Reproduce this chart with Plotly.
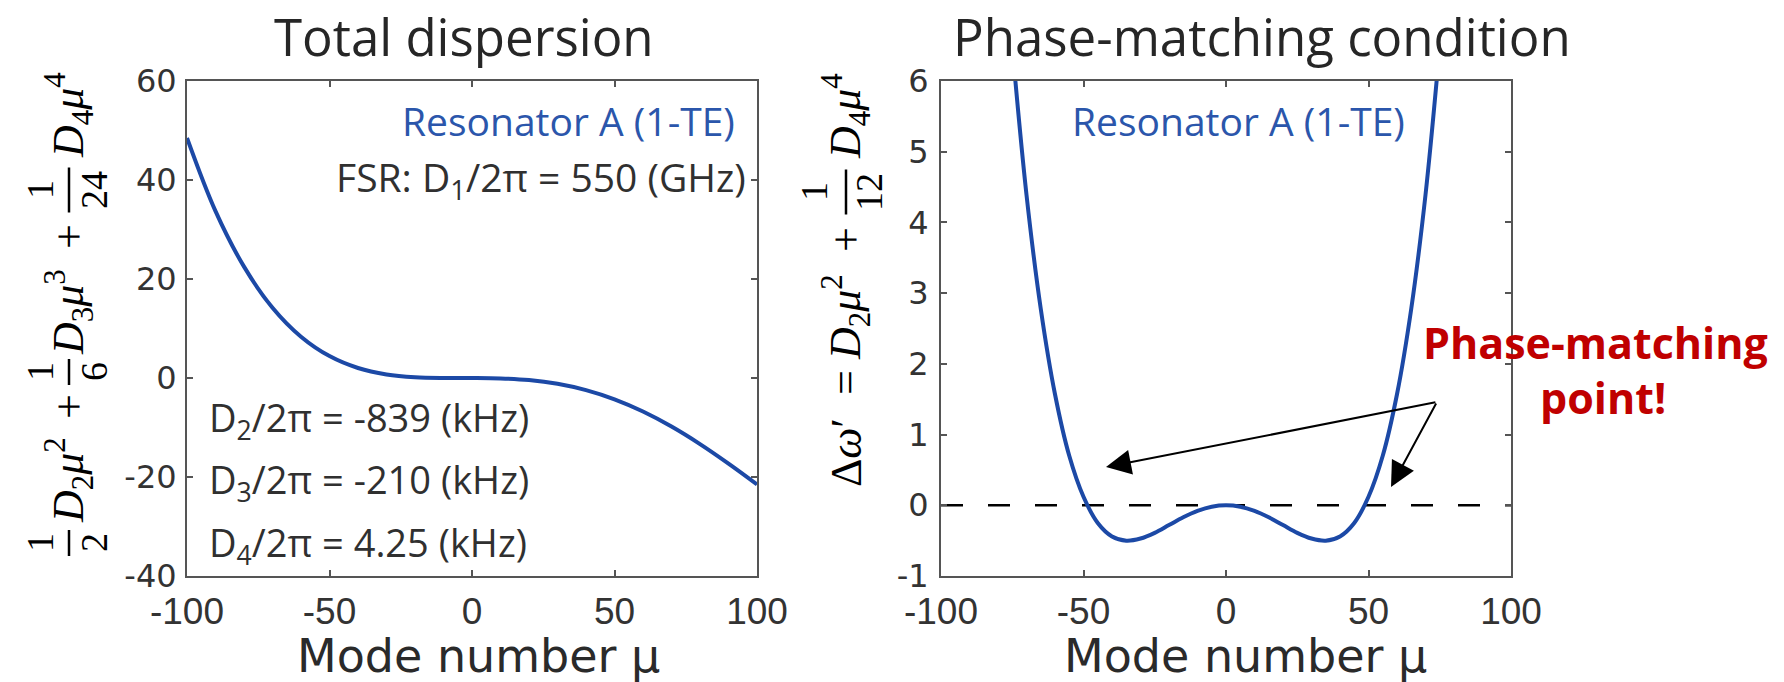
import plotly.graph_objects as go

# ---------------- data ----------------
# Total dispersion (GHz) versus mode number, resonator A (1-TE)
mu_total = [-100, -90, -80, -70, -60, -50, -40, -30, -20, -10, 0,
            10, 20, 30, 40, 50, 60, 70, 80, 90, 100]
disp_total = [48.5, 33.7, 22.5, 14.2, 8.35, 4.43, 2.02, 0.71, 0.14, -0.01, 0.0,
              -0.08, -0.42, -1.18, -2.46, -4.32, -6.78, -9.81, -13.35, -17.29, -21.49]

# Phase-matching curve Δω' (GHz)
mu_pm = [-75, -70, -65, -60, -55, -50, -45, -40, -35, -30, -25, -20, -15, -10, -5, 0,
         5, 10, 15, 20, 25, 30, 35, 40, 45, 50, 55, 60, 65, 70, 75]
dw_pm = [6.49, 4.39, 2.78, 1.57, 0.70, 0.12, -0.25, -0.44, -0.50, -0.47, -0.39, -0.28, -0.17, -0.08, -0.02, 0.0,
         -0.02, -0.08, -0.17, -0.28, -0.39, -0.47, -0.50, -0.44, -0.25, 0.12, 0.70, 1.57, 2.78, 4.39, 6.49]

x_ticks = [-100, -50, 0, 50, 100]
x_ticktext = ["-100", "-50", "0", "50", "100"]
y1_ticks = [-40, -20, 0, 20, 40, 60]
y1_ticktext = ["-40", "-20", "0", "20", "40", "60"]
y2_ticks = [-1, 0, 1, 2, 3, 4, 5, 6]
y2_ticktext = ["-1", "0", "1", "2", "3", "4", "5", "6"]

# phase-matching arrows: tail -> heads, in data units of the right panel
arrow_tail = (74, 1.46)
arrow_heads = [(-42.1, 0.54), (57.9, 0.26)]

# ---------------- styling ----------------
W, H = 1784, 682
CURVE = "#1c49a6"
TEXT_BLUE = "#2b56ab"
RED = "#c00000"
AXIS = "#555555"
DARK = "#262626"
SANS = "Open Sans"
MATH_FONT = "Liberation Serif"


def px(x):
    """pixel column -> paper fraction"""
    return x / W


def py(y):
    """pixel row (from top) -> paper fraction"""
    return 1 - y / H


fig = go.Figure()
fig.add_trace(go.Scatter(x=mu_total, y=disp_total, mode="lines",
                         line=dict(color=CURVE, width=4, shape="spline"),
                         xaxis="x", yaxis="y", showlegend=False))
fig.add_trace(go.Scatter(x=mu_pm, y=dw_pm, mode="lines",
                         line=dict(color=CURVE, width=4, shape="spline"),
                         xaxis="x2", yaxis="y2", showlegend=False))

axis_common = dict(showline=True, linecolor=AXIS, linewidth=2, mirror="ticks",
                   ticks="inside", ticklen=6, tickwidth=1.5, tickcolor=AXIS,
                   showgrid=False, zeroline=False, automargin=False)
xtick_font = dict(family="Liberation Sans", size=37, color="#333333")
ytick_font = dict(family="DejaVu Sans", size=32, color="#333333")

fig.update_layout(
    width=W, height=H,
    margin=dict(l=0, r=0, t=0, b=0, pad=0, autoexpand=False),
    paper_bgcolor="white", plot_bgcolor="white",
    xaxis=dict(domain=[px(187), px(757)], range=[-100, 100], anchor="y",
               tickvals=x_ticks, ticktext=x_ticktext, tickfont=xtick_font,
               ticklabelstandoff=2, **axis_common),
    yaxis=dict(domain=[py(576), py(81)], range=[-40, 60], anchor="x",
               tickvals=y1_ticks, ticktext=y1_ticktext, tickfont=ytick_font,
               ticklabelstandoff=2, **axis_common),
    xaxis2=dict(domain=[px(941), px(1511)], range=[-100, 100], anchor="y2",
                tickvals=x_ticks, ticktext=x_ticktext, tickfont=xtick_font,
                ticklabelstandoff=2, **axis_common),
    yaxis2=dict(domain=[py(576), py(81)], range=[-1, 6], anchor="x2",
                tickvals=y2_ticks, ticktext=y2_ticktext, tickfont=ytick_font,
                ticklabelstandoff=4, **axis_common),
)

ann = []
shapes = []


def text(x, y, s, size, color=DARK, family=SANS, xanchor="center", angle=0):
    ann.append(dict(x=px(x), y=py(y), xref="paper", yref="paper", text=s,
                    showarrow=False, xanchor=xanchor, yanchor="middle",
                    textangle=angle, font=dict(family=family, size=size, color=color)))


# panel titles
text(464, 36, "Total dispersion", 51)
text(1262, 36, "Phase-matching condition", 51)

# x-axis titles
text(478, 656, "Mode number μ", 46, color="#2a2a2a", family="DejaVu Sans")
text(1245, 656, "Mode number μ", 46, color="#2a2a2a", family="DejaVu Sans")

# in-plot labels, left panel
text(737, 120, "Resonator A (1-TE)", 39, color=TEXT_BLUE, xanchor="right")
text(748, 179, "FSR: D<sub>1</sub>/2π = 550 (GHz)", 39, color="#303030", xanchor="right")
text(207, 419, "D<sub>2</sub>/2π = -839 (kHz)", 38, color="#303030", xanchor="left")
text(207, 481, "D<sub>3</sub>/2π = -210 (kHz)", 38, color="#303030", xanchor="left")
text(207, 544, "D<sub>4</sub>/2π = 4.25 (kHz)", 38, color="#303030", xanchor="left")

# in-plot labels, right panel
text(1407, 120, "Resonator A (1-TE)", 39, color=TEXT_BLUE, xanchor="right")
text(1595, 342, "<b>Phase-matching</b>", 43, color=RED)
text(1603, 397, "<b>point!</b>", 43, color=RED)


# rotated math y-axis labels, built from terms and stacked fractions
def math_term(xc, yc, s):
    text(xc, yc, s, 44, color="black", family=MATH_FONT, angle=-90)


def fraction(xc, yc, den, bar_len, num_dx=29, den_dx=25):
    text(xc - num_dx, yc, "1", 38, color="black", family=MATH_FONT, angle=-90)
    text(xc + den_dx, yc, den, 38, color="black", family=MATH_FONT, angle=-90)
    shapes.append(dict(type="line", xref="paper", yref="paper",
                       x0=px(xc), x1=px(xc), y0=py(yc - bar_len / 2), y1=py(yc + bar_len / 2),
                       line=dict(color="black", width=2.5)))


LX = 69
math_term(LX, 115, "<i>D</i><sub>4</sub><i>μ</i><sup>4</sup>")
fraction(LX, 190, "24", 45)
math_term(LX, 237, "+")
math_term(LX, 312, "<i>D</i><sub>3</sub><i>μ</i><sup>3</sup>")
fraction(LX, 372, "6", 26)
math_term(LX, 407, "+")
math_term(LX, 480, "<i>D</i><sub>2</sub><i>μ</i><sup>2</sup>")
fraction(LX, 543, "2", 26)

RX = 846
math_term(RX, 116, "<i>D</i><sub>4</sub><i>μ</i><sup>4</sup>")
fraction(RX, 192, "12", 45, num_dx=32, den_dx=23)
math_term(RX, 240, "+")
math_term(RX, 317, "<i>D</i><sub>2</sub><i>μ</i><sup>2</sup>")
math_term(RX, 383, "=")
math_term(RX, 453, "Δ<i>ω</i>′")

# zero reference line on the phase-matching panel
shapes.append(dict(type="line", xref="x2", yref="y2", x0=-100, x1=100, y0=0, y1=0,
                   layer="below", line=dict(color="black", width=2.5, dash="22px,25px")))

# arrows pointing at the two phase-matching points
for hx, hy in arrow_heads:
    ann.append(dict(x=hx, y=hy, xref="x2", yref="y2", ax=arrow_tail[0], ay=arrow_tail[1],
                    axref="x2", ayref="y2", text="", showarrow=True, arrowhead=2,
                    arrowsize=2.5, arrowwidth=2, arrowcolor="black", standoff=0))

fig.update_layout(annotations=ann, shapes=shapes)
fig.write_html("out.html")
